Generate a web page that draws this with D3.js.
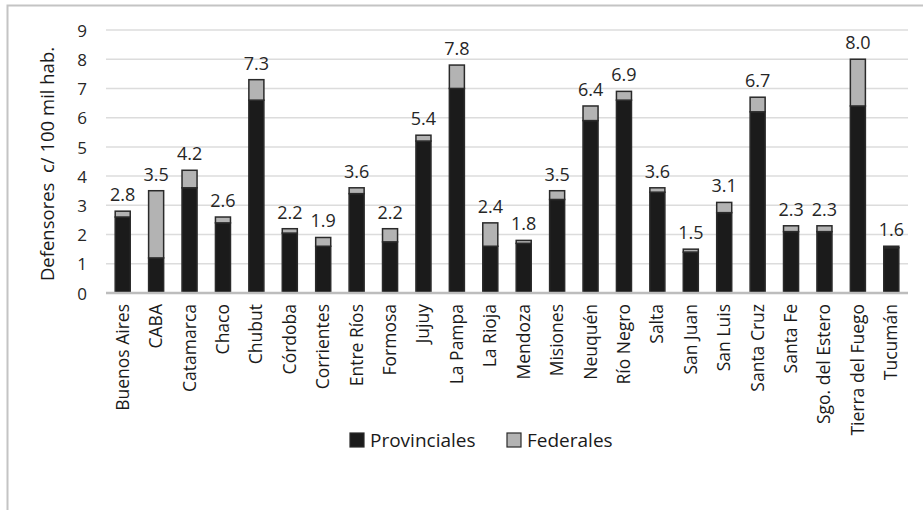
<!DOCTYPE html>
<html>
<head>
<meta charset="utf-8">
<script src="https://cdn.jsdelivr.net/npm/d3@7"></script>
<style>
  html, body { margin: 0; padding: 0; background: #fff; }
  svg { display: block; font-family: "Open Sans", Lato, sans-serif; }
</style>
</head>
<body>
<svg id="chart" width="923" height="510"></svg>
<script>
// Defensores por cada 100 mil habitantes, por jurisdicción
const provincias = ["Buenos Aires", "CABA", "Catamarca", "Chaco", "Chubut", "Córdoba",
  "Corrientes", "Entre Ríos", "Formosa", "Jujuy", "La Pampa", "La Rioja", "Mendoza",
  "Misiones", "Neuquén", "Río Negro", "Salta", "San Juan", "San Luis", "Santa Cruz",
  "Santa Fe", "Sgo. del Estero", "Tierra del Fuego", "Tucumán"];
const provinciales = [2.6, 1.2, 3.6, 2.4, 6.6, 2.05, 1.6, 3.4, 1.75, 5.2, 7.0, 1.6, 1.7,
  3.2, 5.9, 6.6, 3.45, 1.4, 2.75, 6.2, 2.1, 2.1, 6.4, 1.55];
const federales = [0.2, 2.3, 0.6, 0.2, 0.7, 0.15, 0.3, 0.2, 0.45, 0.2, 0.8, 0.8, 0.1,
  0.3, 0.5, 0.3, 0.15, 0.1, 0.35, 0.5, 0.2, 0.2, 1.6, 0.05];
const yTicks = [0, 1, 2, 3, 4, 5, 6, 7, 8, 9];
const serieNames = ["Provinciales", "Federales"];
const serieColors = ["#1b1b1b", "#b3b3b3"];
const yTitle = "Defensores  c/ 100 mil hab.";

const svg = d3.select("#chart");
const margin = { left: 106, right: 15, top: 30, bottom: 217 };
const W = 923, H = 510;

// outer frame
svg.append("rect")
  .attr("x", 7.5).attr("y", 5.5).attr("width", 940).attr("height", 540)
  .attr("fill", "none").attr("stroke", "#c4c4c4").attr("stroke-width", 2);

const x = d3.scaleBand().domain(provincias)
  .range([margin.left, W - margin.right]).paddingInner(0.55).paddingOuter(0.275);
const y = d3.scaleLinear().domain([0, 9]).range([H - margin.bottom, margin.top]);

// gridlines
svg.append("g").selectAll("line").data(yTicks.filter(t => t > 0)).join("line")
  .attr("x1", margin.left).attr("x2", W - margin.right)
  .attr("y1", d => y(d)).attr("y2", d => y(d))
  .attr("stroke", "#dcdcdc").attr("stroke-width", 1.5);

// y axis labels
const yAxis = svg.append("g")
  .attr("transform", `translate(${margin.left},0)`)
  .call(d3.axisLeft(y).tickValues(yTicks).tickSize(0).tickPadding(19).tickFormat(d3.format("d")));
yAxis.select(".domain").remove();
yAxis.selectAll("text").attr("font-size", 17).attr("fill", "#262626")
  .attr("font-family", "'Open Sans', sans-serif").attr("dy", "0.36em");

// stacked bars
const stackData = provincias.map((p, i) => ({ p, Provinciales: provinciales[i], Federales: federales[i] }));
const series = d3.stack().keys(serieNames)(stackData);
svg.append("g").selectAll("g").data(series).join("g")
  .attr("fill", (d, i) => serieColors[i])
  .selectAll("rect").data(d => d).join("rect")
  .attr("x", d => x(d.data.p))
  .attr("width", x.bandwidth())
  .attr("y", d => y(d[1]))
  .attr("height", d => y(d[0]) - y(d[1]))
  .attr("stroke", "#2a2a2a").attr("stroke-width", 1.5);

// zero baseline
svg.append("line")
  .attr("x1", margin.left).attr("x2", W - margin.right)
  .attr("y1", y(0)).attr("y2", y(0))
  .attr("stroke", "#bdbdbd").attr("stroke-width", 2.5);

// totals above bars
svg.append("g").selectAll("text").data(stackData).join("text")
  .attr("x", d => x(d.p) + x.bandwidth() / 2)
  .attr("y", d => y(d.Provinciales + d.Federales) - 10)
  .attr("text-anchor", "middle").attr("font-size", 18).attr("fill", "#262626")
  .text(d => d3.format(".1f")(d.Provinciales + d.Federales));

// category labels, rotated
svg.append("g").selectAll("text").data(provincias).join("text")
  .attr("transform", d => `translate(${x(d) + x.bandwidth() / 2 + 6},${y(0) + 11}) rotate(-90)`)
  .attr("text-anchor", "end").attr("font-size", 17.5).attr("fill", "#1a1a1a")
  .text(d => d);

// y axis title
svg.append("text")
  .attr("transform", `translate(54,164) rotate(-90)`)
  .attr("text-anchor", "middle").attr("font-size", 18.5).attr("fill", "#1a1a1a")
  .style("white-space", "pre")
  .text(yTitle);

// legend
const legendX = [350, 507];
const lg = svg.append("g").selectAll("g").data(serieNames).join("g")
  .attr("transform", (d, i) => `translate(${legendX[i]},433)`);
lg.append("rect").attr("width", 14).attr("height", 14)
  .attr("fill", (d, i) => serieColors[i]).attr("stroke", "#2a2a2a").attr("stroke-width", 1.2);
lg.append("text").attr("x", 20).attr("y", 7).attr("dy", "0.36em")
  .attr("font-size", 19).attr("fill", "#1a1a1a").text(d => d);
</script>
</body>
</html>
